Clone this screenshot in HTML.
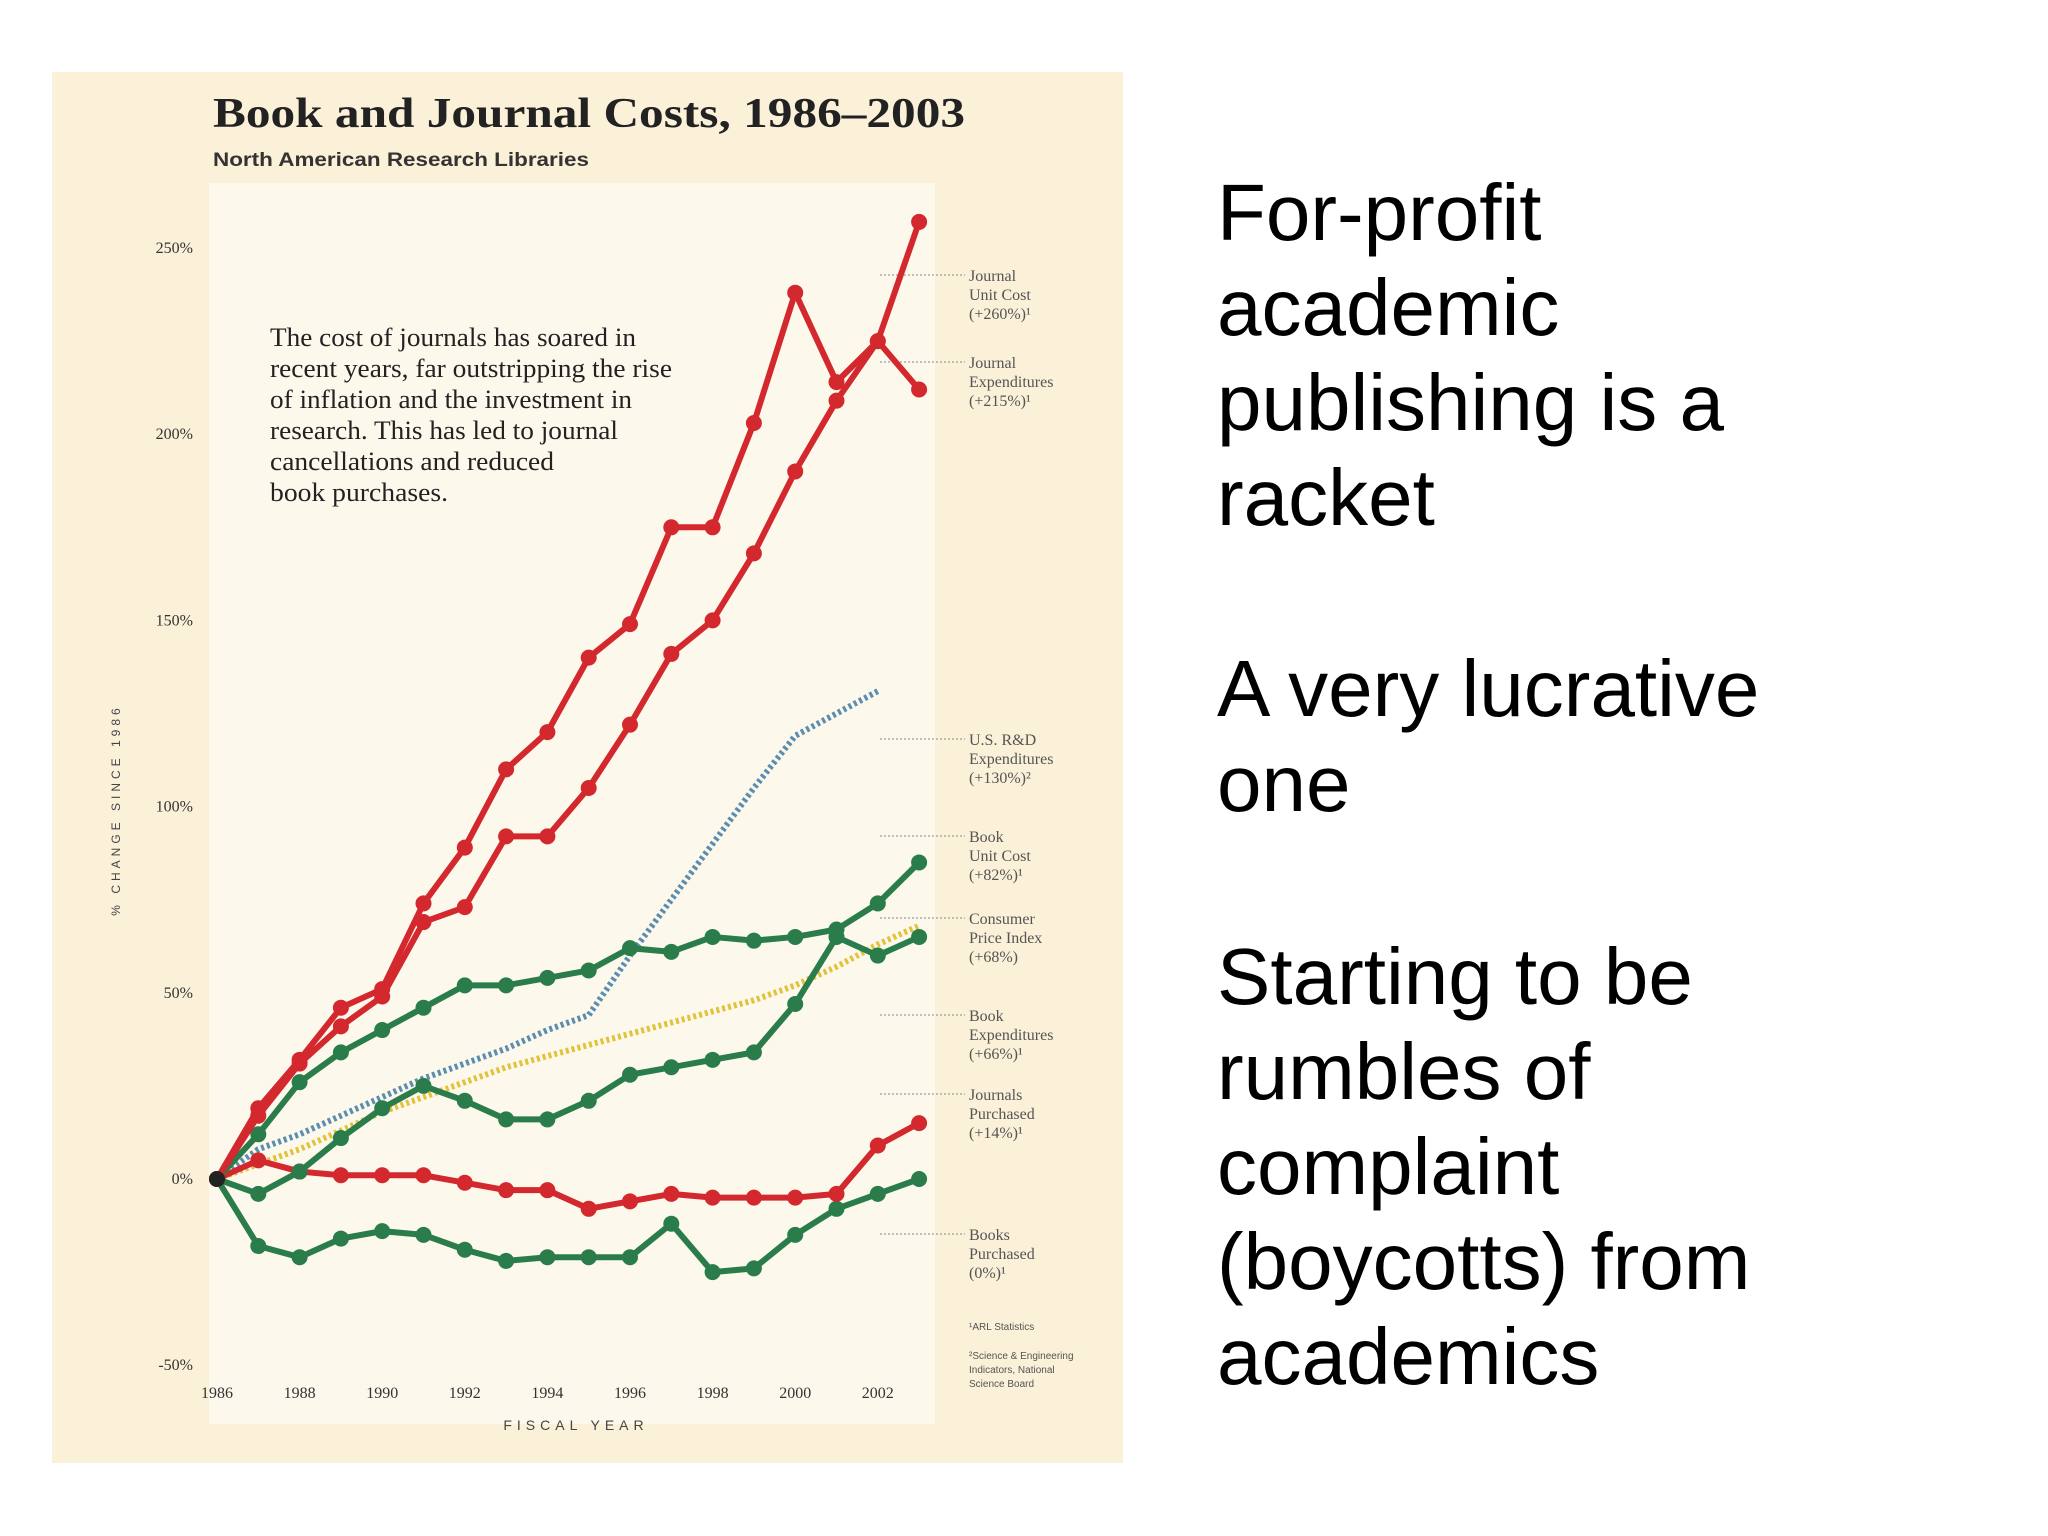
<!DOCTYPE html>
<html><head><meta charset="utf-8"><style>
html,body{margin:0;padding:0;background:#fff;}
#wrap{position:relative;width:2048px;height:1536px;overflow:hidden;background:#fff;}
svg{position:absolute;left:0;top:0;}
.rt{position:absolute;left:1217px;font-family:"Liberation Sans",sans-serif;font-size:80px;line-height:95px;color:#000;}
</style></head><body>
<div id="wrap">
<svg id="chart" width="2048" height="1536" viewBox="0 0 2048 1536">
<rect x="52" y="72" width="1071" height="1391" fill="#fbf0d8"/>
<rect x="209" y="183" width="726" height="1241" fill="#fdf8ec"/>
<text x="213" y="127" textLength="752" lengthAdjust="spacingAndGlyphs" font-family="Liberation Serif,serif" font-weight="bold" font-size="42" fill="#222">Book and Journal Costs, 1986–2003</text>
<text x="213" y="166" textLength="376" lengthAdjust="spacingAndGlyphs" font-family="Liberation Sans,sans-serif" font-weight="bold" font-size="19" fill="#333">North American Research Libraries</text>
<text transform="translate(120,810) rotate(-90)" text-anchor="middle" font-family="Liberation Sans,sans-serif" font-size="12" letter-spacing="4" fill="#444">% CHANGE SINCE 1986</text>
<text x="576" y="1430" text-anchor="middle" font-family="Liberation Sans,sans-serif" font-size="14" letter-spacing="5" fill="#444">FISCAL YEAR</text>
<g font-family="Liberation Serif,serif" font-size="26" fill="#222">
<text x="270" y="346" textLength="366" lengthAdjust="spacingAndGlyphs">The cost of journals has soared in</text>
<text x="270" y="377" textLength="402" lengthAdjust="spacingAndGlyphs">recent years, far outstripping the rise</text>
<text x="270" y="408" textLength="362" lengthAdjust="spacingAndGlyphs">of inflation and the investment in</text>
<text x="270" y="439" textLength="348" lengthAdjust="spacingAndGlyphs">research. This has led to journal</text>
<text x="270" y="470" textLength="284" lengthAdjust="spacingAndGlyphs">cancellations and reduced</text>
<text x="270" y="501" textLength="178" lengthAdjust="spacingAndGlyphs">book purchases.</text>
</g>
<g id="axes"></g><g id="leaders"></g><g id="series"></g><g id="legend"></g>
<g font-family="Liberation Sans,sans-serif" font-size="10" fill="#555">
<text x="969" y="1330">¹ARL Statistics</text>
<text x="969" y="1359">²Science &amp; Engineering</text>
<text x="969" y="1373">Indicators, National</text>
<text x="969" y="1387">Science Board</text>
</g>
</svg>
<div class="rt" style="top:165px">For-profit<br>academic<br>publishing is a<br>racket</div>
<div class="rt" style="top:641px">A very lucrative<br>one</div>
<div class="rt" style="top:929px">Starting to be<br>rumbles of<br>complaint<br>(boycotts) from<br>academics</div>
</div>
<script>
const years=[1986,1987,1988,1989,1990,1991,1992,1993,1994,1995,1996,1997,1998,1999,2000,2001,2002,2003];
const yTicks=[-50,0,50,100,150,200,250];
const xTicks=[1986,1988,1990,1992,1994,1996,1998,2000,2002];
const journalUnitCost=[0,19,32,46,51,74,89,110,120,140,149,175,175,203,238,214,225,257];
const journalExpenditures=[0,17,31,41,49,69,73,92,92,105,122,141,150,168,190,209,225,212];
const rdExpenditures=[0,8,12,17,22,27,31,35,40,44,60,75,90,105,119,125,131];
const cpi=[0,4,8,13,18,22,26,30,33,36,39,42,45,48,52,57,63,68];
const bookUnitCost=[0,12,26,34,40,46,52,52,54,56,62,61,65,64,65,67,74,85];
const bookExpenditures=[0,-4,2,11,19,25,21,16,16,21,28,30,32,34,47,65,60,65];
const journalsPurchased=[0,5,2,1,1,1,-1,-3,-3,-8,-6,-4,-5,-5,-5,-4,9,15];
const booksPurchased=[0,-18,-21,-16,-14,-15,-19,-22,-21,-21,-21,-12,-25,-24,-15,-8,-4,0];
const legendLabels=[["Journal","Unit Cost","(+260%)¹"],["Journal","Expenditures","(+215%)¹"],["U.S. R&D","Expenditures","(+130%)²"],["Book","Unit Cost","(+82%)¹"],["Consumer","Price Index","(+68%)"],["Book","Expenditures","(+66%)¹"],["Journals","Purchased","(+14%)¹"],["Books","Purchased","(0%)¹"]];
const legendTops=[281,368,745,842,924,1021,1100,1240];
const X=y=>217+(y-1986)*41.3;
const Y=v=>1179-v*3.724;
const NS="http://www.w3.org/2000/svg";
function mk(t,a,p){const e=document.createElementNS(NS,t);for(const k in a)e.setAttribute(k,a[k]);p.appendChild(e);return e;}
const axes=document.getElementById('axes');
yTicks.forEach(v=>{const t=mk('text',{x:193,y:Y(v)+5,'text-anchor':'end','font-family':'Liberation Serif,serif','font-size':16,fill:'#333'},axes);t.textContent=v+'%';

});
xTicks.forEach(v=>{const t=mk('text',{x:X(v),y:1398,'text-anchor':'middle','font-family':'Liberation Serif,serif','font-size':16,fill:'#333'},axes);t.textContent=v;

});
const ser=document.getElementById('series');
function line(vals,color,name,dotted){
  const pts=vals.map((v,i)=>X(years[i])+','+Y(v)).join(' ');
  const pl=mk('polyline',{points:pts,fill:'none',stroke:color,'stroke-width':6,'stroke-dasharray':dotted?'3 3':'none','stroke-linejoin':'round'},ser);
  
  
  if(!dotted) vals.forEach((v,i)=>{const c=mk('circle',{cx:X(years[i]),cy:Y(v),r:8,fill:color},ser);
    
    });
}
const RED='#d3282d',GREEN='#2a7d4b';
line(rdExpenditures,'#5a8db0','rd-expenditures',true);
line(cpi,'#e2c23a','consumer-price-index',true);
line(booksPurchased,GREEN,'books-purchased');
line(journalsPurchased,RED,'journals-purchased');
line(bookExpenditures,GREEN,'book-expenditures');
line(bookUnitCost,GREEN,'book-unit-cost');
line(journalExpenditures,RED,'journal-expenditures');
line(journalUnitCost,RED,'journal-unit-cost');
const o=mk('circle',{cx:X(1986),cy:Y(0),r:8,fill:'#222'},ser);


const leg=document.getElementById('legend'),ld=document.getElementById('leaders');
legendLabels.forEach((lab,i)=>{
  const g=mk('g',{},leg);
  
  
  lab.forEach((s,j)=>{const t=mk('text',{x:969,y:legendTops[i]+j*19,'font-family':'Liberation Serif,serif','font-size':16,fill:'#555'},g);t.textContent=s;});
  const l=mk('line',{x1:880,y1:legendTops[i]-6,x2:965,y2:legendTops[i]-6,stroke:'#888','stroke-width':1,'stroke-dasharray':'2 2'},ld);
  
  
});
</script>
</body></html>
